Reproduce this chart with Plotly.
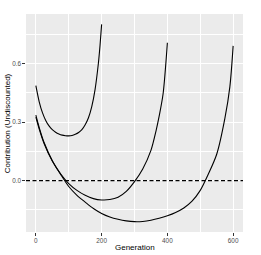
import plotly.graph_objects as go

# Curve 1 (horizon 200)
gen1 = [0, 10, 20, 30, 40, 50, 60, 70, 80, 90, 100, 110, 120, 130, 140, 150, 160, 170, 180, 190, 195, 200]
val1 = [0.486, 0.405, 0.348, 0.308, 0.280, 0.261, 0.248, 0.239, 0.233, 0.230, 0.229, 0.231, 0.237,
        0.246, 0.261, 0.286, 0.322, 0.379, 0.466, 0.598, 0.689, 0.80]

# Curve 2 (horizon 400)
gen2 = [0, 10, 25, 50, 75, 100, 125, 150, 175, 200, 225, 250, 275, 300, 325, 350, 366, 375, 387, 400]
val2 = [0.325, 0.265, 0.19, 0.10, 0.035, -0.015, -0.05, -0.075, -0.092, -0.099, -0.097, -0.085, -0.055,
        -0.005, 0.06, 0.155, 0.259, 0.33, 0.445, 0.706]

# Curve 3 (horizon 600)
gen3 = [0, 10, 25, 50, 75, 100, 125, 150, 175, 200, 225, 250, 275, 300, 325, 350, 375, 400, 425,
        450, 475, 500, 525, 550, 575, 590, 600]
val3 = [0.335, 0.273, 0.195, 0.102, 0.033, -0.03, -0.075, -0.11, -0.143, -0.168, -0.186, -0.198,
        -0.206, -0.21, -0.209, -0.203, -0.193, -0.18, -0.163, -0.14, -0.105, -0.05, 0.035,
        0.135, 0.32, 0.48, 0.69]

hline_y = 0.0

x_ticks = [0, 200, 400, 600]
x_minor = [100, 300, 500]
y_ticks = [0.0, 0.3, 0.6]
y_tick_labels = ["0.0", "0.3", "0.6"]
y_minor = [-0.15, 0.15, 0.45, 0.75]

x_title = "Generation"
y_title = "Contribution (Undiscounted)"

FONT = "Liberation Sans, Arial, Helvetica, sans-serif"

fig = go.Figure()
for gx, gy in [(gen1, val1), (gen2, val2), (gen3, val3)]:
    fig.add_trace(go.Scatter(x=gx, y=gy, mode="lines",
                             line=dict(color="black", width=1.1, shape="spline", smoothing=0.8),
                             showlegend=False, hoverinfo="skip"))

fig.add_shape(type="line", xref="paper", yref="y", x0=0, x1=1, y0=hline_y, y1=hline_y,
              line=dict(color="black", width=1.1, dash="4px,2.5px"))

fig.update_layout(
    width=261, height=255,
    margin=dict(l=26, r=18, t=14, b=23),
    paper_bgcolor="white",
    plot_bgcolor="#EBEBEB",
    font=dict(family=FONT, color="#4D4D4D"),
    showlegend=False,
)
fig.update_xaxes(
    range=[-30, 630], tickvals=x_ticks, ticktext=[str(v) for v in x_ticks],
    showgrid=True, gridcolor="white", gridwidth=1.07,
    minor=dict(tickvals=x_minor, showgrid=True, gridcolor="white", gridwidth=0.53, ticks=""),
    ticks="outside", ticklen=2.7, tickwidth=1, tickcolor="#333333",
    tickfont=dict(size=6.4, color="#4D4D4D", family=FONT),
    zeroline=False, showline=False, automargin=False,
)
fig.update_yaxes(
    range=[-0.263, 0.853], tickvals=y_ticks, ticktext=y_tick_labels,
    showgrid=True, gridcolor="white", gridwidth=1.07,
    minor=dict(tickvals=y_minor, showgrid=True, gridcolor="white", gridwidth=0.53, ticks=""),
    ticks="outside", ticklen=2.7, tickwidth=1, tickcolor="#333333",
    tickfont=dict(size=6.4, color="#4D4D4D", family=FONT),
    zeroline=False, showline=False, automargin=False,
)

# axis titles as annotations, placed in paper coordinates
fig.add_annotation(text=x_title, xref="paper", yref="paper", x=0.5, y=-0.072,
                   xanchor="center", yanchor="middle", showarrow=False,
                   font=dict(size=8, color="black", family=FONT))
fig.add_annotation(text=y_title, xref="paper", yref="paper", x=-0.086, y=0.5,
                   xanchor="center", yanchor="middle", showarrow=False, textangle=-90,
                   font=dict(size=8, color="black", family=FONT))

# remove the browser's default 8px body margin so the figure fills the window
fig.write_html("out.html", config={"displayModeBar": False},
               post_script="document.body.style.margin='0';")
